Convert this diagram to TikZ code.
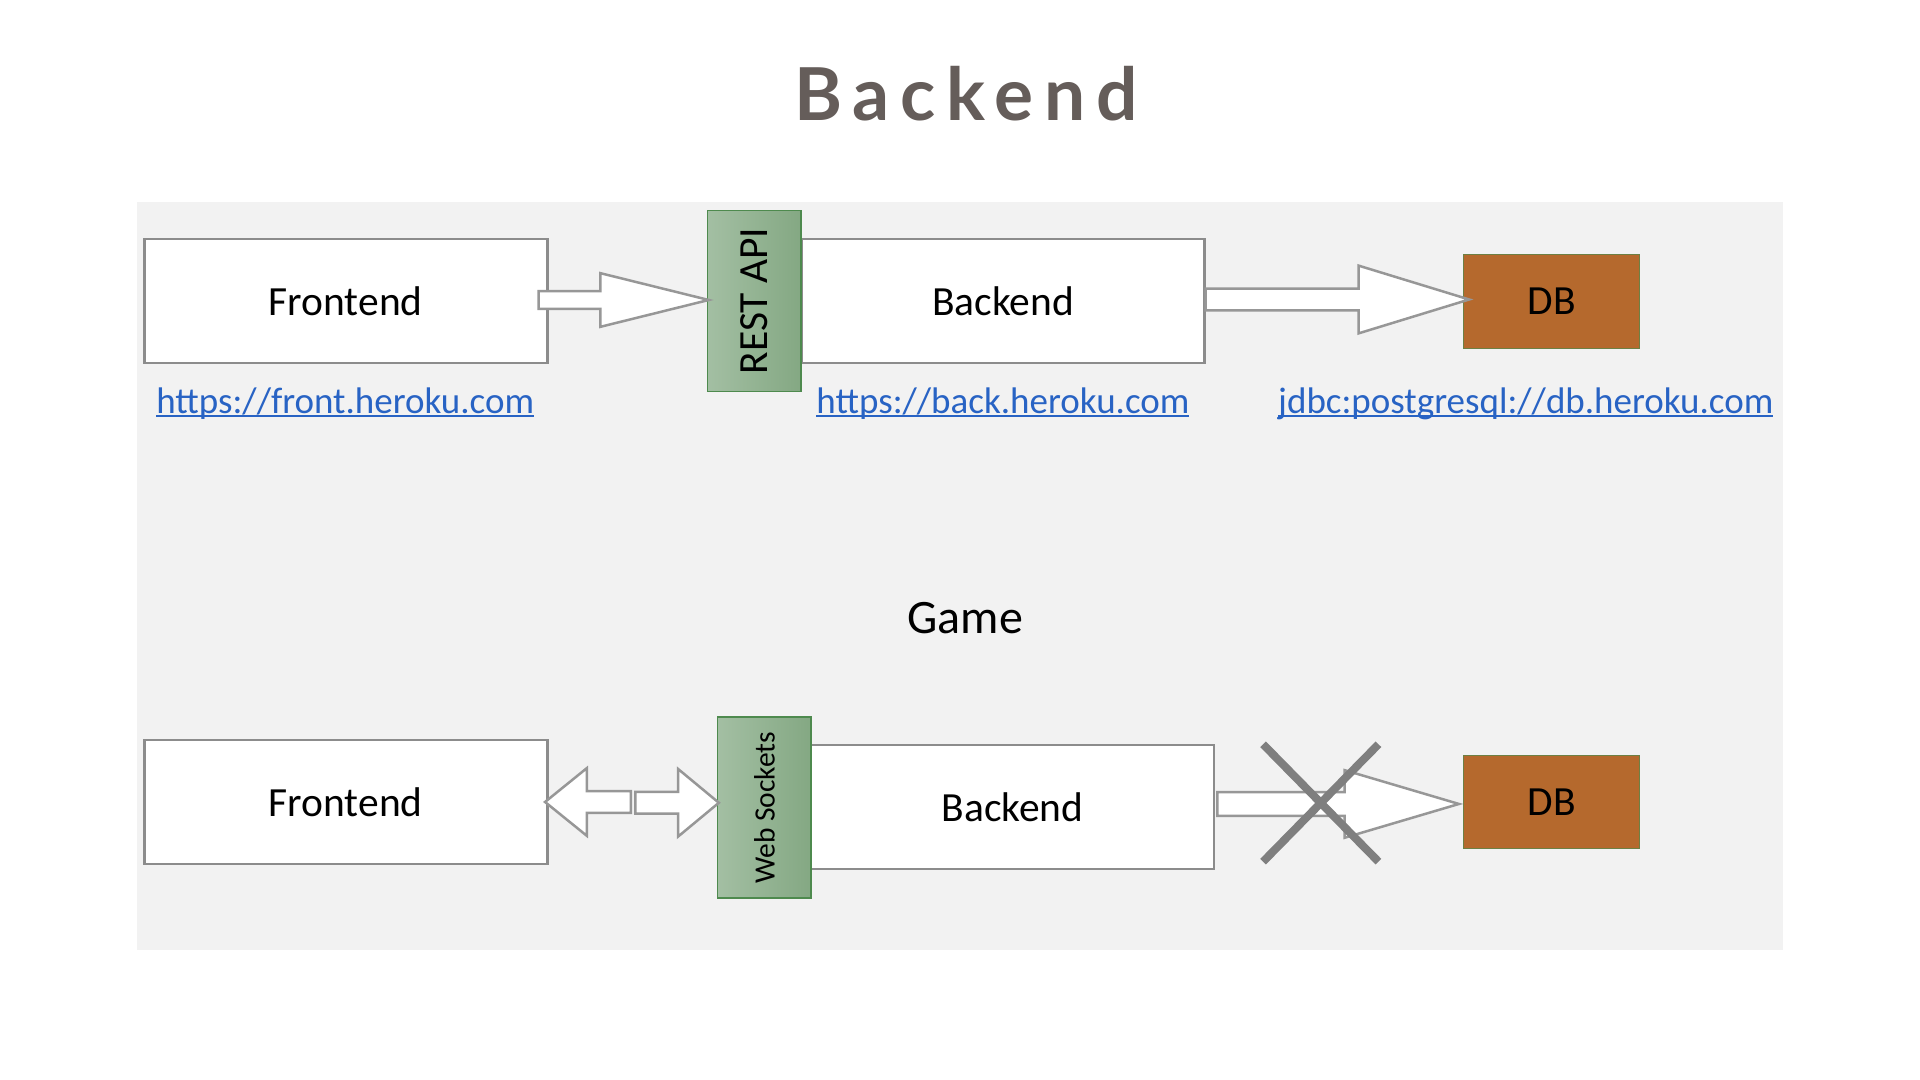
\documentclass[tikz,border=0pt]{standalone}
\usepackage{fontspec}
\usepackage{graphicx}
\setmainfont{Carlito}
\newfontfamily\titlefont[LetterSpace=15]{Lato}
\usetikzlibrary{calc}

\definecolor{panelGray}{HTML}{F2F2F2}
\definecolor{boxGray}{HTML}{8C8C8C}
\definecolor{titleGray}{HTML}{655D5A}
\definecolor{dbBrown}{HTML}{B5692D}
\definecolor{apiLight}{HTML}{A3BFA3}
\definecolor{apiDark}{HTML}{84A883}
\definecolor{apiBorder}{HTML}{4E8A4E}
\definecolor{linkBlue}{HTML}{2863C4}
\definecolor{crossGray}{HTML}{7F7F7F}

% underlined link text
\newcommand{\linkText}[1]{\leavevmode\vtop{\hbox{#1}\kern-5pt\hrule height 2pt}}
% block arrow: tail, tip, shaft half, head half, head length
\newcommand{\fatArrow}[5]{%
  \draw[arrowDecorate] ($(#1 |- #2)+(0,-#3)$) -- ($(#2)-(#5,#3)$) -- ($(#2)-(#5,#4)$)
    -- (#2) -- ($(#2)-(#5,-#4)$) -- ($(#2)-(#5,-#3)$) -- ($(#1 |- #2)+(0,#3)$) -- cycle;}

\begin{document}
\begin{tikzpicture}
[x=0.995pt,y=-0.995pt,
  boxDecorate/.style={draw=boxGray,line width=2.5pt,fill=white,inner sep=0pt,
    minimum width=403pt,minimum height=124pt,font=\fontsize{41.5}{48}\selectfont},
  apiDecorate/.style={draw=apiBorder,line width=1.5pt,left color=apiLight,right color=apiDark,
    inner sep=0pt,minimum width=93.5pt,minimum height=181pt},
  dbDecorate/.style={draw=apiBorder!70!dbBrown,line width=1pt,fill=dbBrown,inner sep=0pt,
    minimum width=176pt,minimum height=93.5pt,font=\fontsize{41.5}{48}\selectfont},
  arrowDecorate/.style={draw=boxGray!90,line width=2.5pt,fill=white,line join=miter},
  crossDecorate/.style={draw=crossGray,line width=8pt},
  linkDecorate/.style={text=linkBlue,font=\fontsize{37}{42}\selectfont,anchor=base,inner sep=0pt}]
\useasboundingbox (0,0) rectangle (1929.65,1085.43);
%% background panel
\fill[panelGray] (138,203) rectangle (1792,955);
%% title
\node (title) at (971,121) [anchor=base,text=titleGray,font=\titlefont\bfseries\fontsize{73}{82}\selectfont] {Backend};
%% boxes
\foreach \nodename/\x/\y/\txt in {front1/347.5/302.5/Frontend, back1/1008/302.5/Backend,
    front2/347.5/806/Frontend, back2/1017.7/811/Backend}
{
  \node (\nodename) at (\x,\y) [boxDecorate] {\txt};
}
\foreach \nodename/\x/\y in {db1/1559.5/303, db2/1559.5/806}
{
  \node (\nodename) at (\x,\y) [dbDecorate] {DB};
}
\node (rest) at (758,302.5) [apiDecorate,font=\fontsize{41.5}{48}\selectfont] {\rotatebox{90}{REST API}};
\node (ws) at (768.2,811.8) [apiDecorate,font=\fontsize{29.5}{34}\selectfont] {\rotatebox{90}{Web Sockets}};
%% links
\node (url1) at (347,416) [linkDecorate] {\linkText{https://front.heroku.com}};
\node (url2) at (1008,416) [linkDecorate] {\linkText{https://back.heroku.com}};
\node (url3) at (1533.5,416) [linkDecorate] {\linkText{jdbc:postgresql://db.heroku.com}};
\node (game) at (970,621) [font=\fontsize{48}{56}\selectfont] {Game};
%% arrows
\coordinate (a1tail) at ($(front1.east)+(-10,-1.5)$);
\coordinate (a1tip) at ($(rest.west)+(2,-1)$);
\coordinate (a2tail) at (back1.east);
\coordinate (a2tip) at ($(db1.west)+(6,-2)$);
\coordinate (a3tail) at (634,806);
\coordinate (a3tip) at ($(front2.east)+(-3.5,0)$);
\coordinate (a4tail) at (638.5,806);
\coordinate (a4tip) at ($(ws.west)+(2,-5)$);
\coordinate (a5tail) at ($(back2.east)+(2,0)$);
\coordinate (a5tip) at ($(db2.west)+(-4.3,2)$);
\fatArrow{a1tail}{a1tip}{9}{27}{109}
\fatArrow{a2tail}{a2tip}{11}{34}{111}
\fatArrow{a3tail}{a3tip}{11}{34}{-42}
\fatArrow{a4tail}{a4tip}{11}{34}{41}
\fatArrow{a5tail}{a5tip}{12}{34}{115}
%% blocked link
\coordinate (stop) at (1327.4,807);
\draw[crossDecorate] ($(stop)+(-58,-59)$) -- ($(stop)+(58,59)$);
\draw[crossDecorate] ($(stop)+(58,-59)$) -- ($(stop)+(-58,59)$);
\end{tikzpicture}
\end{document}
